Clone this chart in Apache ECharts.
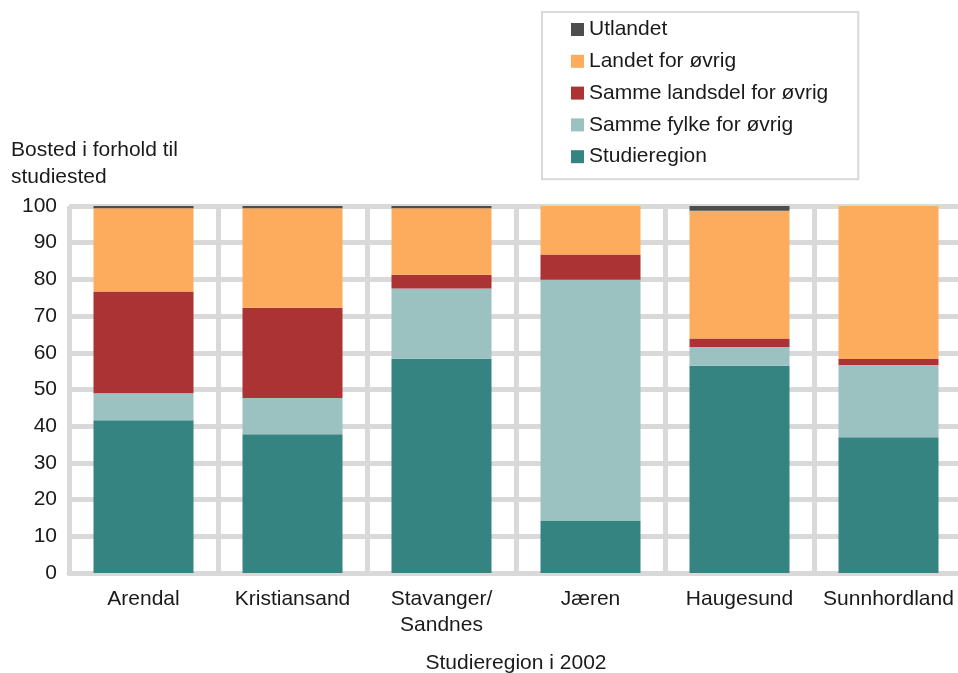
<!DOCTYPE html>
<html>
<head>
<meta charset="utf-8">
<script src="https://cdn.jsdelivr.net/npm/echarts@6/dist/echarts.min.js"></script>
<style>
  html, body { margin: 0; padding: 0; background: #fff; }
  #chart { width: 958px; height: 673px; }
</style>
</head>
<body>
<div id="chart"></div>
<script>
// kategorier og verdier (prosent), lest av figuren
const regions = ['Arendal', 'Kristiansand', 'Stavanger/\nSandnes', 'Jæren', 'Haugesund', 'Sunnhordland'];
const studieregion = [41.6, 37.8, 58.4, 14.2, 56.5, 37.0];
const sammeFylke = [7.4, 9.9, 19.1, 65.7, 5.1, 19.7];
const sammeLandsdel = [27.7, 24.6, 3.8, 6.9, 2.3, 1.6];
const landetForOvrig = [22.7, 27.1, 18.1, 13.2, 34.8, 41.7];
const utlandet = [0.6, 0.6, 0.6, 0, 1.3, 0];
const yTicks = [0, 10, 20, 30, 40, 50, 60, 70, 80, 90, 100];

const gridGrey = '#d9d9d9';
const txt = '#1a1a1a';
const font = 'Liberation Sans, Arial, sans-serif';
const fs = 21;

const makeSeries = (name, data, color) => ({
  name: name,
  type: 'bar',
  stack: 'total',
  barWidth: 100,
  data: data,
  itemStyle: { color: color },
  emphasis: { disabled: true }
});

const option = {
  animation: false,
  textStyle: { fontFamily: font, color: txt },
  title: {
    text: 'Bosted i forhold til\nstudiested',
    left: 6,
    top: 132,
    textStyle: { fontSize: fs, fontWeight: 'normal', color: txt, lineHeight: 27, fontFamily: font }
  },
  legend: {
    orient: 'vertical',
    left: 542,
    top: 12,
    data: ['Utlandet', 'Landet for øvrig', 'Samme landsdel for øvrig', 'Samme fylke for øvrig', 'Studieregion'],
    icon: 'rect',
    itemWidth: 13,
    itemHeight: 13,
    itemGap: 10.8,
    borderColor: gridGrey,
    borderWidth: 2,
    padding: [7, 30, 12, 29],
    textStyle: { fontSize: fs, color: txt, fontFamily: font }
  },
  grid: {
    left: 69,
    right: -5,
    top: 206,
    bottom: 100,
    containLabel: false,
    outerBoundsMode: 'none'
  },
  xAxis: {
    type: 'category',
    data: regions,
    name: 'Studieregion i 2002',
    nameLocation: 'middle',
    nameGap: 80,
    nameTextStyle: { fontSize: fs, color: txt },
    axisLine: { show: true, lineStyle: { color: gridGrey, width: 5 } },
    axisTick: { show: false },
    axisLabel: { fontSize: fs, color: txt, margin: 13, lineHeight: 26, interval: 0 },
    splitLine: { show: true, lineStyle: { color: gridGrey, width: 5 } }
  },
  yAxis: {
    type: 'value',
    min: yTicks[0],
    max: yTicks[yTicks.length - 1],
    interval: 10,
    axisLine: { show: false },
    axisTick: { show: false },
    axisLabel: { fontSize: fs, color: txt, margin: 12 },
    splitLine: { show: true, lineStyle: { color: gridGrey, width: 5 } }
  },
  series: [
    makeSeries('Studieregion', studieregion, '#358482'),
    makeSeries('Samme fylke for øvrig', sammeFylke, '#9bc1c1'),
    makeSeries('Samme landsdel for øvrig', sammeLandsdel, '#ab3333'),
    makeSeries('Landet for øvrig', landetForOvrig, '#fdab5d'),
    makeSeries('Utlandet', utlandet, '#4d4d4d')
  ]
};

const chart = echarts.init(document.getElementById('chart'));
chart.setOption(option);
</script>
</body>
</html>
